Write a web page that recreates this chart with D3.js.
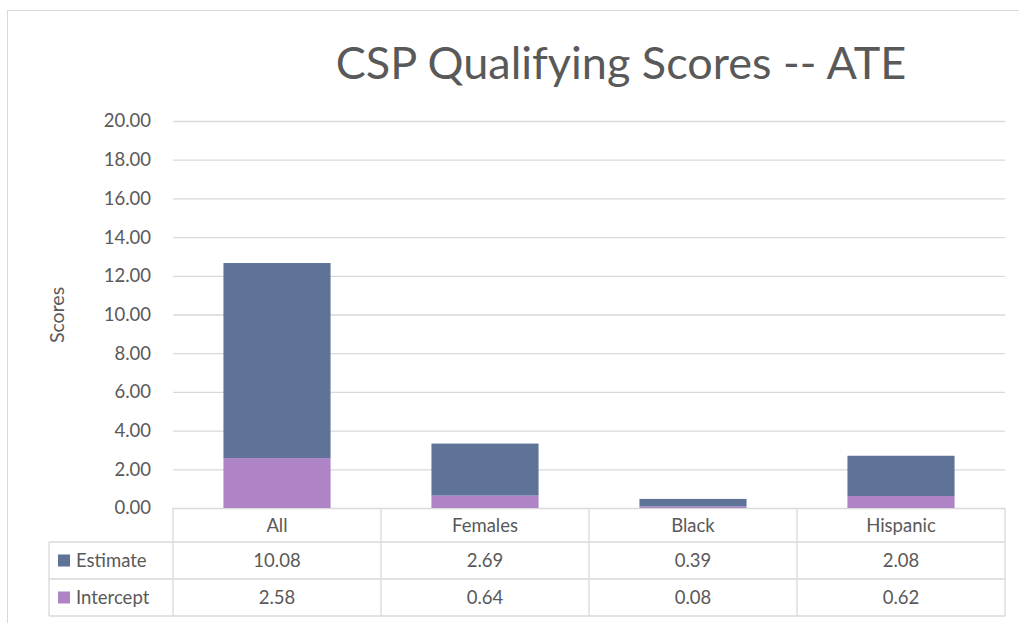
<!DOCTYPE html>
<html>
<head>
<meta charset="utf-8">
<script src="https://cdn.jsdelivr.net/npm/d3@7"></script>
<style>
  body { margin: 0; background: #fff; }
  text { font-family: Lato, "Open Sans", sans-serif; fill: #595959; }
</style>
</head>
<body>
<svg id="canvas" width="1019" height="623"></svg>
<script>
const categories = ['All', 'Females', 'Black', 'Hispanic'];
const estimate = [10.08, 2.69, 0.39, 2.08];
const intercept = [2.58, 0.64, 0.08, 0.62];
const yTicks = [0, 2, 4, 6, 8, 10, 12, 14, 16, 18, 20];

const series = [
	{ name: 'Estimate', values: estimate, color: '#5f7399' },
	{ name: 'Intercept', values: intercept, color: '#ae84c6' }
];

const rows = categories.map((c, i) => ({ cat: c, Estimate: estimate[i], Intercept: intercept[i] }));

const svg = d3.select('#canvas');
const grid = '#d9d9d9';

// outer frame
svg.append('rect')
	.attr('x', 7.5).attr('y', 10.5)
	.attr('width', 1020).attr('height', 620)
	.attr('fill', 'none').attr('stroke', grid);

const x = d3.scaleBand().domain(categories).range([173, 1005]);
const y = d3.scaleLinear().domain([0, 20]).range([508, 121]);

// title
svg.append('text')
	.attr('x', 621).attr('y', 79)
	.attr('text-anchor', 'middle')
	.style('font-size', '45px')
	.text('CSP Qualifying Scores -- ATE');

// gridlines + y axis labels
const yAxis = d3.axisLeft(y).tickValues(yTicks).tickFormat(d3.format('.2f'))
	.tickSize(-(1005 - 173)).tickPadding(22);
const gy = svg.append('g').attr('transform', 'translate(173,0)').call(yAxis);
gy.select('.domain').remove();
gy.selectAll('line').attr('stroke', grid).attr('stroke-width', 1.3);
gy.selectAll('text').style('font-size', '18.5px').style('fill', '#595959').attr('font-family', null);

svg.append('text')
	.attr('transform', 'translate(64,315) rotate(-90)')
	.attr('text-anchor', 'middle')
	.style('font-size', '19.5px')
	.text('Scores');

// stacked bars, intercept at the bottom
const stack = d3.stack().keys(['Intercept', 'Estimate']);
const layers = stack(rows);
const color = d3.scaleOrdinal().domain(series.map(s => s.name)).range(series.map(s => s.color));
const barW = x.bandwidth() * 0.515;

svg.append('g').selectAll('g')
	.data(layers)
	.enter()
	.append('g')
	.attr('fill', (d) => color(d.key))
	.selectAll('rect')
	.data((d) => d)
	.enter()
	.append('rect')
	.attr('x', (d) => x(d.data.cat) + (x.bandwidth() - barW) / 2)
	.attr('y', (d) => y(d[1]))
	.attr('width', barW)
	.attr('height', (d) => y(d[0]) - y(d[1]));

// data table
const rowY = [508, 542, 579, 616];
const tableLeft = 49;
const table = svg.append('g').attr('stroke', grid).attr('stroke-width', 1.3);

categories.concat(['']).forEach((c, i) => {
	const xx = i < categories.length ? x(c) : x.range()[1];
	table.append('line').attr('x1', xx).attr('x2', xx).attr('y1', rowY[0]).attr('y2', rowY[3]);
});
table.append('line').attr('x1', tableLeft).attr('x2', tableLeft).attr('y1', rowY[1]).attr('y2', rowY[3]);
rowY.slice(1).forEach((ry) => {
	table.append('line').attr('x1', tableLeft).attr('x2', x.range()[1]).attr('y1', ry).attr('y2', ry);
});

const fs = '18.5px';
svg.append('g').selectAll('text')
	.data(categories)
	.enter()
	.append('text')
	.attr('x', (d) => x(d) + x.bandwidth() / 2)
	.attr('y', (rowY[0] + rowY[1]) / 2 + 6.5)
	.attr('text-anchor', 'middle')
	.style('font-size', fs)
	.text((d) => d);

const fmt = d3.format('.2f');
series.forEach((s, si) => {
	const cy = (rowY[si + 1] + rowY[si + 2]) / 2;
	svg.append('rect')
		.attr('x', 58).attr('y', cy - 6)
		.attr('width', 12).attr('height', 12)
		.attr('fill', s.color);
	svg.append('text')
		.attr('x', 76).attr('y', cy + 6.5)
		.style('font-size', fs)
		.text(s.name);
	svg.append('g').selectAll('text')
		.data(s.values)
		.enter()
		.append('text')
		.attr('x', (d, i) => x(categories[i]) + x.bandwidth() / 2)
		.attr('y', cy + 6.5)
		.attr('text-anchor', 'middle')
		.style('font-size', fs)
		.text((d) => fmt(d));
});
</script>
</body>
</html>
